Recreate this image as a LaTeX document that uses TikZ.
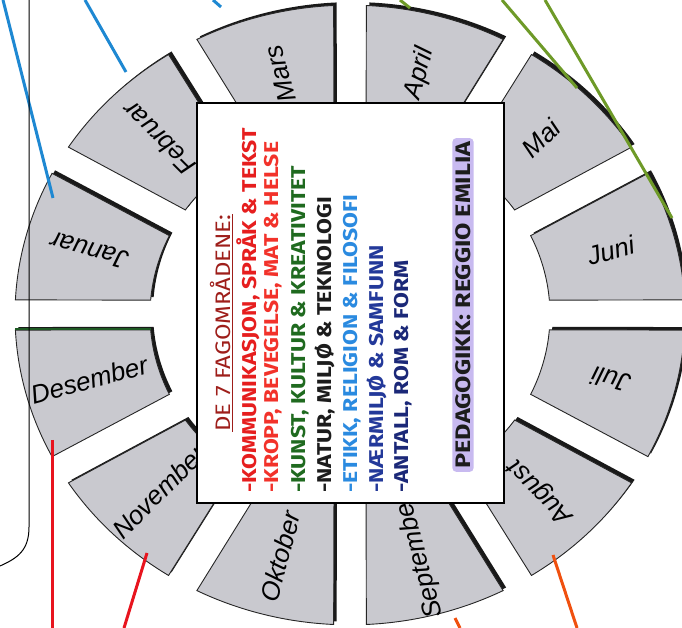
\documentclass[tikz,border=0pt]{standalone}
\usepackage{fontspec}
\setmainfont{Liberation Sans}
\newfontfamily\fagfont{Fira Sans}
\usetikzlibrary{calc}
\definecolor{sektorgra}{HTML}{C9C9CF}
\definecolor{tittelrod}{HTML}{9E1E1A}
\definecolor{fagrod}{HTML}{E61E1E}
\definecolor{fagoransje}{HTML}{F2322A}
\definecolor{faggronn}{HTML}{1F6A1F}
\definecolor{fagsvart}{HTML}{1C1C1C}
\definecolor{fagblaa}{HTML}{2A8AE0}
\definecolor{fagmork}{HTML}{23399A}
\definecolor{fagnavy}{HTML}{1B2878}
\definecolor{pedlilla}{HTML}{C8BAF0}
\definecolor{strekblaa}{HTML}{1E88D2}
\definecolor{strekgronn}{HTML}{6E9A28}
\definecolor{desgronn}{HTML}{1E5A24}
\definecolor{strekrod}{HTML}{E8141E}
\definecolor{strekoransje}{HTML}{F0500F}

\begin{document}
\begin{tikzpicture}[x=1pt,y=1pt,
  sektor/.style={fill=sektorgra,draw=black!85,line width=0.9pt},
  skygge/.style={fill=black!90},
  mnd/.style={font=\fontsize{26}{26}\selectfont\itshape,inner sep=0pt},
  fag/.style={font=\fagfont\bfseries\fontsize{20}{20}\selectfont,rotate=90,xscale=1.15,anchor=west,inner sep=0pt},
  strek/.style={line width=3pt}]
\useasboundingbox (0,0) rectangle (682,628);

% the year wheel
\begin{scope}[shift={(350,313)},yscale=0.925]
\foreach \m [count=\k from 0] in {Januar,Februar,Mars,April,Mai,Juni,Juli,August,September,Oktober,November,Desember}{
  \pgfmathsetmacro\ao{150-30*\k+2.8}
  \pgfmathsetmacro\bo{180-30*\k-2.8}
  \pgfmathsetmacro\ai{150-30*\k+4.6}
  \pgfmathsetmacro\bi{180-30*\k-4.6}
  \pgfmathsetmacro\midt{165-30*\k}
  \pgfmathsetmacro\rot{\k<6 ? \midt : \midt+180}
  \fill[skygge,shift={(3,3.3)}] (\ao:335) arc[start angle=\ao,end angle=\bo,radius=335]
    -- (\bi:200) arc[start angle=\bi,end angle=\ai,radius=200] -- cycle;
  \filldraw[sektor] (\ao:335) arc[start angle=\ao,end angle=\bo,radius=335]
    -- (\bi:200) arc[start angle=\bi,end angle=\ai,radius=200] -- cycle;
  \node[mnd,rotate=\rot] (m\k) at (\midt:270) {\m};
}
\draw[desgronn,line width=2.5pt] (-334.6,-15) -- (-199.4,-15);
\end{scope}

% the box in the middle
\node[draw=black,line width=1.6pt,fill=white,minimum width=307pt,minimum height=400pt,inner sep=0pt] (boks) at (350.5,325) {};
\node[font=\fagfont\fontsize{21}{21}\selectfont,text=tittelrod,rotate=90,xscale=1.14] (tittel) at (222,305) {\underline{DE 7 FAGOMRÅDENE:}};
\node[fag,text=fagrod] (fag1) at (248,135) {-KOMMUNIKASJON, SPRÅK \& TEKST};
\node[fag,text=fagoransje] (fag2) at (273,135) {-KROPP, BEVEGELSE, MAT \& HELSE};
\node[fag,text=faggronn] (fag3) at (300,135) {-KUNST, KULTUR \& KREATIVITET};
\node[fag,text=fagsvart] (fag4) at (325,135) {-NATUR, MILJØ \& TEKNOLOGI};
\node[fag,text=fagblaa] (fag5) at (352,135) {-ETIKK, RELIGION \& FILOSOFI};
\node[fag,text=fagmork] (fag6) at (377,135) {-NÆRMILJØ \& SAMFUNN};
\node[fag,text=fagnavy] (fag7) at (403,135) {-ANTALL, ROM \& FORM};
\node[fag,anchor=center,fill=pedlilla,rounded corners=4pt,inner sep=3pt,text=fagsvart,font=\fagfont\bfseries\fontsize{21}{21}\selectfont,xscale=1.04] (ped) at (463,323) {PEDAGOGIKK: REGGIO EMILIA};

% strokes running off the page
\draw[strek,strekblaa] (85,628) -- (126,556);
\draw[strek,strekblaa] (3,628) -- (53,430);
\draw[strek,strekblaa] (213,628) -- (221,621);
\draw[black,line width=1pt] (29,628) -- (29,101) .. controls (29,78) and (18,70) .. (0,62);
\draw[strek,strekgronn] (502,628) -- (577,540);
\draw[strek,strekgronn] (545,628) -- (672,410);
\draw[strek,strekgronn] (400,628) -- (410,620);
\draw[strek,strekrod] (52,188) -- (52,0);
\draw[strek,strekrod] (147,75) -- (124,0);
\draw[strek,strekoransje] (553,73) -- (577,0);
\draw[strek,strekoransje] (455,10) -- (460,0);
\end{tikzpicture}
\end{document}
